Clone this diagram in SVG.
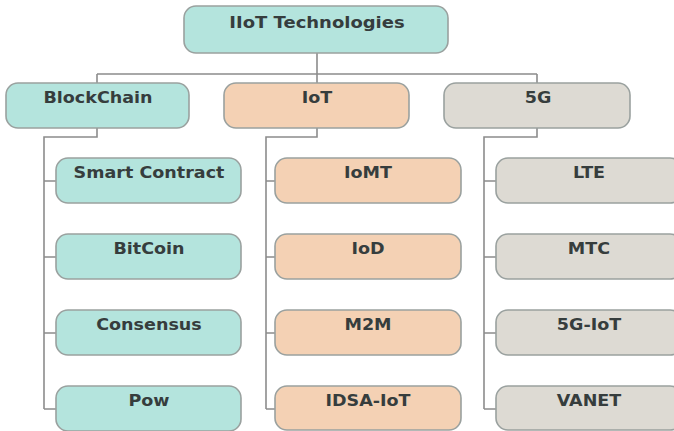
<svg xmlns="http://www.w3.org/2000/svg" width="674" height="431" viewBox="0 0 674 431">
<style>
.box{stroke:#9aa19f;stroke-width:1.6}
.teal{fill:#b4e4dd}
.tan{fill:#f4d1b4}
.gray{fill:#dddad3}
.lbl{font-family:"DejaVu Sans",Verdana,sans-serif;font-weight:bold;font-size:15px;fill:#363d3d;text-anchor:middle}
.conn{fill:none;stroke:#8c8c8c;stroke-width:1.6}
</style>
<rect width="674" height="431" fill="#ffffff"/>
<g id="connectors" class="conn">
<path d="M317 53V83M97 74H537M97 74V83M537 74V83"/>
<path d="M97 128V137H44V409M44 181H56M44 257H56M44 333H56M44 409H56"/>
<path d="M317 128V137H266V409M266 181H275M266 257H275M266 333H275M266 409H275"/>
<path d="M537 128V137H484V409M484 181H496M484 257H496M484 333H496M484 409H496"/>
</g>
<g id="root"><rect class="box teal" x="184" y="6" width="264" height="47" rx="12"/><text class="lbl" transform="translate(317 27.5) scale(1.2 1)">IIoT Technologies</text></g>
<g id="blockchain"><rect class="box teal" x="6" y="83" width="183" height="45" rx="12"/><text class="lbl" transform="translate(98 103) scale(1.17 1)">BlockChain</text></g>
<g id="iot"><rect class="box tan" x="224" y="83" width="185" height="45" rx="12"/><text class="lbl" transform="translate(317 103) scale(1.17 1)">IoT</text></g>
<g id="g5"><rect class="box gray" x="444" y="83" width="186" height="45" rx="12"/><text class="lbl" transform="translate(538 103) scale(1.17 1)">5G</text></g>
<g id="smart-contract"><rect class="box teal" x="56" y="158" width="185" height="45" rx="12"/><text class="lbl" transform="translate(149 178) scale(1.17 1)">Smart Contract</text></g>
<g id="bitcoin"><rect class="box teal" x="56" y="234" width="185" height="45" rx="12"/><text class="lbl" transform="translate(149 254) scale(1.17 1)">BitCoin</text></g>
<g id="consensus"><rect class="box teal" x="56" y="310" width="185" height="45" rx="12"/><text class="lbl" transform="translate(149 330) scale(1.17 1)">Consensus</text></g>
<g id="pow"><rect class="box teal" x="56" y="386" width="185" height="45" rx="12"/><text class="lbl" transform="translate(149 406) scale(1.17 1)">Pow</text></g>
<g id="iomt"><rect class="box tan" x="275" y="158" width="186" height="45" rx="12"/><text class="lbl" transform="translate(368 178) scale(1.17 1)">IoMT</text></g>
<g id="iod"><rect class="box tan" x="275" y="234" width="186" height="45" rx="12"/><text class="lbl" transform="translate(368 254) scale(1.17 1)">IoD</text></g>
<g id="m2m"><rect class="box tan" x="275" y="310" width="186" height="45" rx="12"/><text class="lbl" transform="translate(368 330) scale(1.17 1)">M2M</text></g>
<g id="idsa-iot"><rect class="box tan" x="275" y="386" width="186" height="44" rx="12"/><text class="lbl" transform="translate(368 406) scale(1.17 1)">IDSA-IoT</text></g>
<g id="lte"><rect class="box gray" x="496" y="158" width="186" height="45" rx="12"/><text class="lbl" transform="translate(589 178) scale(1.17 1)">LTE</text></g>
<g id="mtc"><rect class="box gray" x="496" y="234" width="186" height="45" rx="12"/><text class="lbl" transform="translate(589 254) scale(1.17 1)">MTC</text></g>
<g id="g5-iot"><rect class="box gray" x="496" y="310" width="186" height="45" rx="12"/><text class="lbl" transform="translate(589 330) scale(1.17 1)">5G-IoT</text></g>
<g id="vanet"><rect class="box gray" x="496" y="386" width="186" height="44" rx="12"/><text class="lbl" transform="translate(589 406) scale(1.17 1)">VANET</text></g>
</svg>
